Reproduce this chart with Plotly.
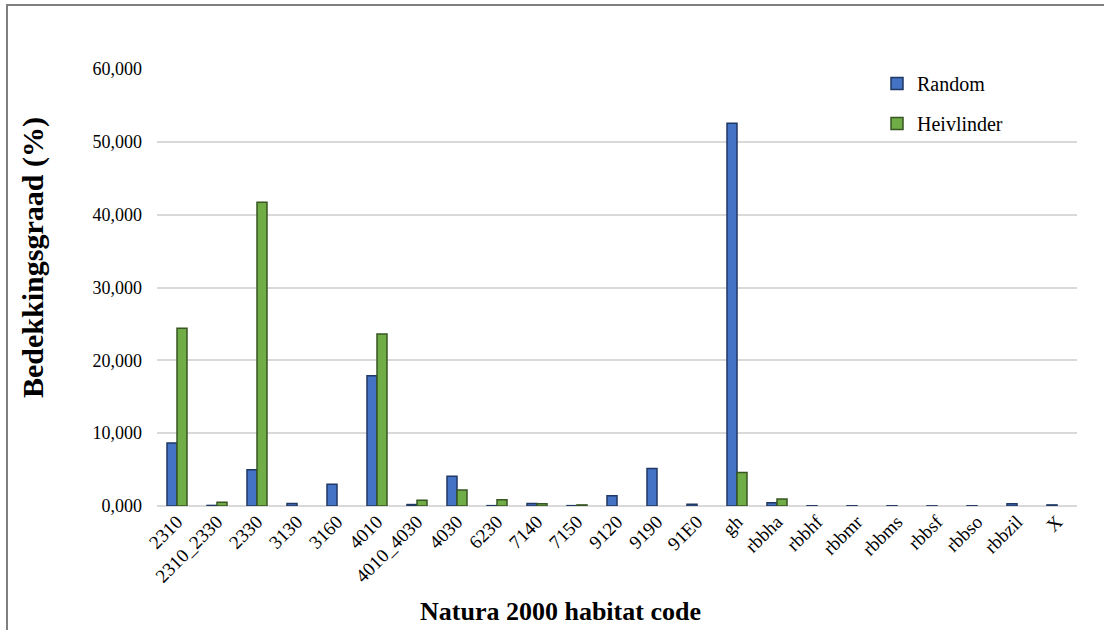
import plotly.graph_objects as go

# Natura 2000 habitat codes on the x axis
habitats = ["2310", "2310_2330", "2330", "3130", "3160", "4010", "4010_4030",
            "4030", "6230", "7140", "7150", "9120", "9190", "91E0", "gh",
            "rbbha", "rbbhf", "rbbmr", "rbbms", "rbbsf", "rbbso", "rbbzil", "X"]

# Coverage (%) per habitat type; None = habitat not found in that sample
random_pct = [8.65, 0.08, 4.97, 0.33, 3.00, 17.90, 0.20, 4.10, 0.05, 0.35,
              0.05, 1.40, 5.15, 0.25, 52.55, 0.45, 0.03, 0.03, 0.03, 0.02,
              0.03, 0.30, 0.15]
heivlinder_pct = [24.40, 0.50, 41.70, None, None, 23.60, 0.80, 2.20, 0.85, 0.30,
                  0.15, None, None, None, 4.60, 0.95, None, None, None, None,
                  None, None, None]

y_ticks = [0, 10, 20, 30, 40, 50, 60]

FONT = "Liberation Serif, Times New Roman, serif"

fig = go.Figure()
fig.add_trace(go.Bar(
    x=habitats, y=random_pct, name="Random", legendgroup="a",
    marker=dict(color="#4472C4", line=dict(color="#1F3864", width=1.5)),
))
fig.add_trace(go.Bar(
    x=habitats, y=heivlinder_pct, name="Heivlinder", legendgroup="b",
    marker=dict(color="#70AD47", line=dict(color="#375623", width=1.5)),
))

# plot area in pixels: left 157, right 1077, top 69, bottom 506
L, R, T, B = 157, 1077, 69, 506
W, H = 1104, 630


def px_x(p):
    return (p - L) / (R - L)


def px_y(p):
    return (B - p) / (B - T)


fig.update_layout(
    width=W, height=H,
    margin=dict(l=L, r=W - R, t=T, b=H - B),
    paper_bgcolor="white", plot_bgcolor="white",
    separators=",.",
    barmode="group", bargap=0.5, bargroupgap=0.0,
    font=dict(family=FONT, color="black", size=16),
    showlegend=True,
    legend=dict(
        x=px_x(877), y=px_y(64), xanchor="left", yanchor="top",
        font=dict(family=FONT, size=20, color="black"),
        bgcolor="rgba(0,0,0,0)", tracegroupgap=11,
        itemwidth=30,
    ),
    xaxis=dict(
        tickangle=-45, tickfont=dict(family=FONT, size=19),
        showgrid=False, showline=False, zeroline=False,
        ticks="", range=[-0.5, len(habitats) - 0.5],
    ),
    yaxis=dict(
        range=[0, 60], tickvals=y_ticks, tickformat=".3f",
        tickfont=dict(family=FONT, size=18),
        showgrid=True, gridcolor="#D9D9D9", gridwidth=1.5,
        zeroline=True, zerolinecolor="#D9D9D9", zerolinewidth=1.5,
        showline=False, ticks="", ticklabelstandoff=14,
    ),
    annotations=[
        dict(text="<b>Natura 2000 habitat code</b>", xref="paper", yref="paper",
             x=px_x(560), y=px_y(611), xanchor="center", yanchor="middle",
             showarrow=False, font=dict(family=FONT, size=26, color="black")),
        dict(text="<b>Bedekkingsgraad (%)</b>", xref="paper", yref="paper",
             x=px_x(33), y=px_y(258), xanchor="center", yanchor="middle",
             textangle=-90, showarrow=False,
             font=dict(family=FONT, size=30, color="black")),
    ],
    shapes=[
        dict(type="rect", xref="paper", yref="paper",
             x0=px_x(7), x1=px_x(1130), y0=px_y(660), y1=px_y(5),
             line=dict(color="#7F7F7F", width=2), fillcolor="rgba(0,0,0,0)",
             layer="below"),
    ],
)

fig.write_html("out.html")
